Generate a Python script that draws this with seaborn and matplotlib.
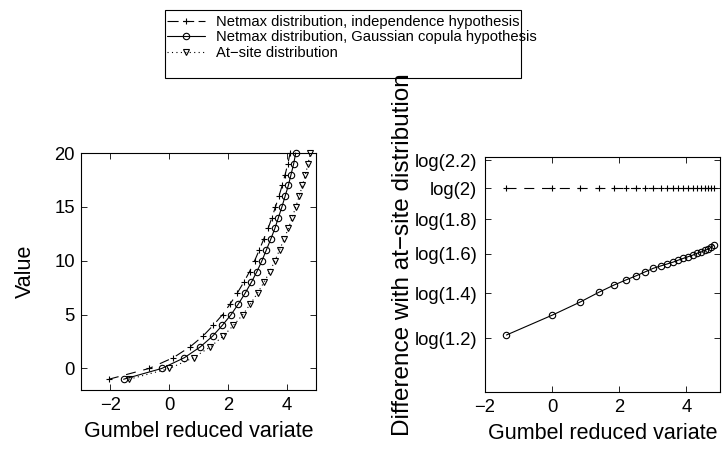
import numpy as np
import pandas as pd
import matplotlib
matplotlib.use("Agg")
import matplotlib.pyplot as plt
from matplotlib.patches import Rectangle
import seaborn as sns

# ---- data ----
values = [-1, 0, 1, 2, 3, 4, 5, 6, 7, 8, 9, 10, 11, 12, 13, 14, 15, 16, 17, 18, 19, 20]
atsite_x = [-1.36, 0.01, 0.83, 1.40, 1.84, 2.19, 2.51, 2.77, 3.01, 3.23, 3.43,
            3.60, 3.76, 3.91, 4.06, 4.19, 4.31, 4.43, 4.54, 4.64, 4.73, 4.81]
indep_x = [-2.05, -0.68, 0.14, 0.71, 1.15, 1.50, 1.82, 2.08, 2.32, 2.54, 2.74,
           2.91, 3.07, 3.22, 3.37, 3.50, 3.62, 3.74, 3.85, 3.95, 4.04, 4.12]
copula_x = [-1.55, -0.25, 0.52, 1.06, 1.48, 1.81, 2.11, 2.36, 2.59, 2.80, 2.99,
            3.16, 3.31, 3.46, 3.60, 3.72, 3.84, 3.95, 4.06, 4.15, 4.24, 4.31]
indep_diff = [0.693] * 22
copula_diff = [0.194, 0.262, 0.306, 0.340, 0.364, 0.381, 0.396, 0.409, 0.421, 0.429, 0.436,
               0.442, 0.449, 0.455, 0.461, 0.466, 0.472, 0.476, 0.482, 0.486, 0.492, 0.500]
ratio_ticks = [1.2, 1.4, 1.6, 1.8, 2.0, 2.2]
ratio_labels = ["log(1.2)", "log(1.4)", "log(1.6)", "log(1.8)", "log(2)", "log(2.2)"]
labels = ["Netmax distribution, independence hypothesis",
          "Netmax distribution, Gaussian copula hypothesis",
          "At\u2212site distribution"]

sns.set_theme(style="white")
plt.rcParams["font.family"] = ["Liberation Sans", "DejaVu Sans"]
plt.rcParams.update({
    "xtick.direction": "in", "ytick.direction": "in",
    "xtick.top": True, "ytick.right": True,
    "xtick.bottom": True, "ytick.left": True,
    "xtick.major.size": 4, "ytick.major.size": 4,
    "xtick.major.width": 0.6, "ytick.major.width": 0.6,
    "xtick.major.pad": 5, "ytick.major.pad": 4.5,
    "xtick.color": "black", "ytick.color": "black",
    "xtick.labelsize": 13.3, "ytick.labelsize": 13.3,
    "axes.edgecolor": "black", "axes.linewidth": 0.8,
    "axes.labelsize": 15.5, "axes.labelcolor": "black",
    "text.color": "black",
    "axes.unicode_minus": True,
})

W, H = 722, 451
fig = plt.figure(figsize=(W / 100, H / 100), dpi=100)
ax1 = fig.add_axes([81 / W, 1 - 390 / H, 235 / W, 237 / H])
ax2 = fig.add_axes([485 / W, 1 - 392 / H, 235 / W, 235 / H])

dash = (0, (9, 7))
common = dict(color="black", estimator=None, sort=False, linewidth=0.8)
mk = dict(markersize=4.6, markerfacecolor="none", markeredgecolor="black",
          markeredgewidth=0.8, clip_on=False)

df = pd.DataFrame({"value": values, "atsite": atsite_x, "indep": indep_x, "copula": copula_x,
                   "d_indep": indep_diff, "d_copula": copula_diff})

sns.lineplot(data=df, x="indep", y="value", ax=ax1, marker="+", linestyle=dash,
             label=labels[0], **common, **mk)
sns.lineplot(data=df, x="copula", y="value", ax=ax1, marker="o", linestyle="-",
             label=labels[1], **common, **mk)
sns.lineplot(data=df, x="atsite", y="value", ax=ax1, marker="v", linestyle=(0, (1, 3)),
             label=labels[2], **common, **mk)

ax1.set_xlim(-3, 5)
ax1.set_ylim(-2, 20)
ax1.set_xticks([-2, 0, 2, 4])
ax1.set_yticks([0, 5, 10, 15, 20])
ax1.set_xlabel("Gumbel reduced variate")
ax1.set_ylabel("Value")
ax1.xaxis.set_label_coords(0.5, (390 - 421) / 237)
ax1.yaxis.set_label_coords((36 - 81) / 235, 0.5)

sns.lineplot(data=df, x="atsite", y="d_indep", ax=ax2, marker="+", linestyle=dash,
             legend=False, **common, **mk)
sns.lineplot(data=df, x="atsite", y="d_copula", ax=ax2, marker="o", linestyle="-",
             legend=False, **common, **mk)
ax2.set_xlim(-2, 5)
ax2.set_ylim(0, 0.8)
ax2.set_xticks([-2, 0, 2, 4])
ax2.set_yticks(np.log(ratio_ticks))
ax2.set_yticklabels(ratio_labels)
ax2.tick_params(axis="y", pad=5.5)
ax2.set_xlabel("Gumbel reduced variate")
ax2.set_ylabel("Difference with at\u2212site distribution", fontsize=17.5)
ax2.xaxis.set_label_coords(0.5, (392 - 423) / 235)
ax2.yaxis.set_label_coords((414 - 485) / 235, (392 - 255) / 235)

handles, labs = ax1.get_legend_handles_labels()
ax1.get_legend().remove()
leg = fig.legend(handles, labs, loc="upper left", bbox_to_anchor=(167 / W, 1 - 15 / H),
                 fontsize=10.6, frameon=False,
                 handlelength=2.6, labelspacing=0.1, borderpad=0.0, handletextpad=0.7,
                 borderaxespad=0)
leg_lines = leg.get_lines()
if leg_lines:
    leg_lines[0].set_linestyle((0, (10, 4)))
fig.patches.append(Rectangle((165 / W, 1 - 78 / H), 356 / W, 68 / H,
                             transform=fig.transFigure, fill=False,
                             edgecolor="black", linewidth=0.8))

for ax in (ax1, ax2):
    for s in ax.spines.values():
        s.set_visible(True)
        s.set_color("black")

fig.savefig("out.png", dpi=100)
